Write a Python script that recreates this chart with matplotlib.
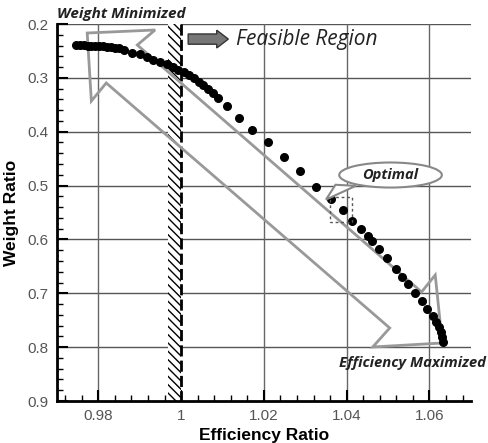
import matplotlib
matplotlib.use("Agg")
import matplotlib.pyplot as plt
from matplotlib.patches import Polygon, Rectangle, Ellipse, FancyArrow
from matplotlib.ticker import MultipleLocator

plt.rcParams['font.family'] = ['Liberation Sans', 'DejaVu Sans']

# Pareto front
eff = [0.9747, 0.9756, 0.9765, 0.9774, 0.9783, 0.9792, 0.9801, 0.9810, 0.9820,
       0.9830, 0.9840, 0.9851, 0.9861, 0.9881, 0.9901, 0.9917, 0.9933, 0.9949,
       0.9966, 0.9981, 0.9993, 1.0006, 1.0018, 1.0030, 1.0042, 1.0054, 1.0066,
       1.0078, 1.0090, 1.0110, 1.0140, 1.0172, 1.0209, 1.0248, 1.0287, 1.0327,
       1.0361, 1.0390, 1.0414, 1.0434, 1.0452, 1.0462, 1.0478, 1.0497, 1.0518,
       1.0534, 1.0549, 1.0564, 1.0581, 1.0595, 1.0608, 1.0616, 1.0622, 1.0627,
       1.0630, 1.0632]
weight = [0.239, 0.239, 0.239, 0.240, 0.240, 0.240, 0.241, 0.241, 0.242,
          0.243, 0.244, 0.245, 0.248, 0.253, 0.256, 0.261, 0.266, 0.270,
          0.275, 0.280, 0.285, 0.290, 0.295, 0.301, 0.307, 0.313, 0.321,
          0.329, 0.337, 0.353, 0.374, 0.397, 0.420, 0.447, 0.473, 0.502,
          0.525, 0.545, 0.565, 0.581, 0.594, 0.602, 0.617, 0.635, 0.654,
          0.669, 0.683, 0.699, 0.714, 0.729, 0.742, 0.753, 0.762, 0.771,
          0.781, 0.790]
xticks = [0.98, 1.0, 1.02, 1.04, 1.06]
xticklabels = ["0.98", "1", "1.02", "1.04", "1.06"]
yticks = [0.2, 0.3, 0.4, 0.5, 0.6, 0.7, 0.8, 0.9]
limit = 1.0  # efficiency constraint

fig = plt.figure(figsize=(4.88, 4.43), dpi=100)
ax = fig.add_axes([0.1168, 0.0948, 0.848, 0.851])

ax.set_xlim(0.97, 1.07)
ax.set_ylim(0.9, 0.2)
ax.set_xticks(xticks)
ax.set_xticklabels(xticklabels)
ax.set_yticks(yticks)
ax.set_yticklabels([f"{v:.1f}" for v in yticks])
ax.xaxis.set_minor_locator(MultipleLocator(0.004))
ax.yaxis.set_minor_locator(MultipleLocator(0.02))
ax.tick_params(which='major', direction='in', length=8, width=1.5, labelsize=11,
               labelcolor='#555555', pad=6)
ax.tick_params(which='minor', direction='in', length=4, width=1)
for s in ['top', 'right']:
    ax.spines[s].set_visible(False)
for s in ['left', 'bottom']:
    ax.spines[s].set_linewidth(2)

for v in yticks[:-1]:
    ax.axhline(v, color='#555555', lw=1, zorder=1)
for v in xticks:
    if v != limit:
        ax.axvline(v, color='#666666', lw=1, zorder=1)

# constraint boundary with hatch
ax.add_patch(Rectangle((limit - 0.0031, 0.2), 0.0031, 0.7, facecolor='white',
                       edgecolor='black', hatch='\\\\\\\\', lw=0, zorder=2))
ax.plot([limit, limit], [0.2, 0.9], color='black', lw=2, ls=(0, (4, 1.5)), zorder=3)

# big double arrow
arrow_pts = [(0.9773, 0.2167), (0.9937, 0.2111), (0.9894, 0.2390),
             (1.0581, 0.6976), (1.0614, 0.6660), (1.0631, 0.7923),
             (1.0463, 0.7997), (1.0504, 0.7644), (0.9819, 0.3095),
             (0.9783, 0.3430)]
ax.add_patch(Polygon(arrow_pts, closed=True, fill=False, edgecolor='#999999',
                     lw=2, zorder=4))

ax.scatter(eff, weight, s=30, color='black', zorder=5, clip_on=False)

# optimal box and callout
ax.add_patch(Rectangle((1.0359, 0.521), 0.0055, 0.047, fill=False,
                       edgecolor='#555555', ls=(0, (2, 2)), lw=1, zorder=6))
ax.add_patch(Polygon([(1.0373, 0.4985), (1.0422, 0.5005), (1.0350, 0.526)],
                     closed=True, facecolor='white', edgecolor='#888888', lw=1.5,
                     zorder=6))
ax.add_patch(Ellipse((1.0506, 0.4804), 0.0248, 0.0465, facecolor='white',
                     edgecolor='#888888', lw=1.5, zorder=7))
ax.text(1.0506, 0.4804, "Optimal", ha='center', va='center', fontsize=10.5,
        fontweight='bold', style='italic', color='#222222', zorder=8,
        family=['Open Sans', 'DejaVu Sans'])

# feasible region arrow
ax.add_patch(FancyArrow(1.0017, 0.228, 0.0097, 0, width=0.019, head_width=0.033,
                        head_length=0.0028, length_includes_head=True,
                        facecolor='#777777', edgecolor='#333333', lw=1,
                        zorder=6, clip_on=False))
ax.text(1.0133, 0.229, "Feasible Region", fontsize=15, style='italic',
        ha='left', va='center', color='#222222', family=['Open Sans', 'DejaVu Sans'])

ax.text(0.0, 1.008, "Weight Minimized", transform=ax.transAxes, fontsize=11,
        fontweight='bold', style='italic', ha='left', va='bottom', color='#222222',
        family=['Open Sans', 'DejaVu Sans'])
ax.text(1.0737, 0.829, "Efficiency Maximized", fontsize=10.7, fontweight='bold',
        style='italic', ha='right', va='center', color='#222222', clip_on=False,
        family=['Open Sans', 'DejaVu Sans'])

ax.set_xlabel("Efficiency Ratio", fontsize=12.5, fontweight='bold', labelpad=3)
ax.set_ylabel("Weight Ratio", fontsize=12.5, fontweight='bold', labelpad=6)

fig.savefig("out.png", dpi=100)
